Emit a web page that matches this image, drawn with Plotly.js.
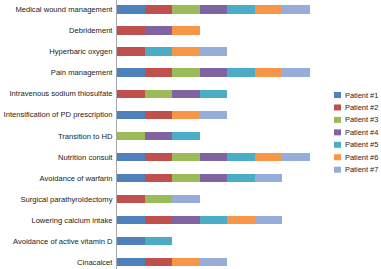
<!DOCTYPE html>
<html>
<head>
<meta charset="utf-8">
<script src="https://cdn.plot.ly/plotly-3.0.1.min.js"></script>
<style>html,body{margin:0;padding:0;background:#fff;}#chart{width:381px;height:269px;}</style>
</head>
<body>
<div id="chart"></div>
<script>
// Categories (top to bottom)
const categories = [
  "Medical wound management",
  "Debridement",
  "Hyperbaric oxygen",
  "Pain management",
  "Intravenous sodium thiosulfate",
  "Intensification of PD prescription",
  "Transition to HD",
  "Nutrition consult",
  "Avoidance of warfarin",
  "Surgical parathyroidectomy",
  "Lowering calcium intake",
  "Avoidance of active vitamin D",
  "Cinacalcet"
];
const seriesNames = ["Patient #1","Patient #2","Patient #3","Patient #4","Patient #5","Patient #6","Patient #7"];
// 1 = patient received the intervention
const patient1 = [1,0,0,1,0,1,0,1,1,0,1,1,1];
const patient2 = [1,1,1,1,1,1,0,1,1,1,1,0,1];
const patient3 = [1,0,0,1,1,0,1,1,1,1,0,0,0];
const patient4 = [1,1,0,1,1,0,1,1,1,0,1,0,0];
const patient5 = [1,0,1,1,1,0,1,1,1,0,1,1,0];
const patient6 = [1,1,1,1,0,1,0,1,0,0,1,0,1];
const patient7 = [1,0,1,1,0,1,0,1,1,1,1,0,1];
const seriesValues = [patient1,patient2,patient3,patient4,patient5,patient6,patient7];
const colors = ["#4F81BD","#C0504D","#9BBB59","#8064A2","#4BACC6","#F79646","#95ADD8"];

const W = 381, H = 269, L = 117, R = 71;
const FONT = 'Liberation Sans, Arial, sans-serif';
const traces = seriesNames.map((n,i)=>({
  type:'bar', orientation:'h', name:n,
  x: seriesValues[i], y: categories,
  marker:{color:colors[i], line:{width:0}},
  hoverinfo:'none'
}));

const shapes = [], annotations = [];
const pw = W - L - R;
const px2x = p => (p - L)/pw;
const py2y = p => 1 - p/H;
seriesNames.forEach((n,i)=>{
  const cy = 95 + i*12.45;
  shapes.push({type:'rect', xref:'paper', yref:'paper',
    x0:px2x(334), x1:px2x(341), y0:py2y(cy+3), y1:py2y(cy-3),
    fillcolor:colors[i], line:{width:0}});
  annotations.push({xref:'paper', yref:'paper', x:px2x(342.5), y:py2y(cy),
    xanchor:'left', yanchor:'middle', showarrow:false, text:n,
    font:{family:FONT, size:7.4, color:'#222'}});
});

const layout = {
  width:W, height:H,
  margin:{l:L, r:R, t:0, b:0, pad:0},
  paper_bgcolor:'#fff', plot_bgcolor:'#fff',
  barmode:'stack', bargap:0.6, showlegend:false,
  font:{family:FONT, size:7.6, color:'#222'},
  xaxis:{range:[0,7], visible:false, showgrid:false, zeroline:false},
  yaxis:{type:'category', categoryorder:'array', categoryarray:categories,
    range:[12.32,-0.45], showline:true, linecolor:'#A6A6A6', linewidth:1,
    showgrid:false, zeroline:false, ticks:'', ticklabelstandoff:2,
    tickfont:{family:FONT, size:7.6, color:'#222'}},
  shapes:shapes, annotations:annotations
};
Plotly.newPlot('chart', traces, layout, {staticPlot:true, displayModeBar:false});
</script>
</body>
</html>
